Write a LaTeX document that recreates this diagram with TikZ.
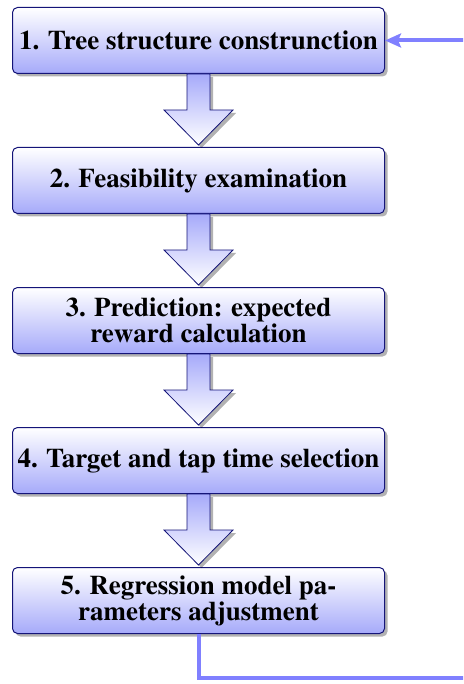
\documentclass[tikz,border=0pt]{standalone}
\usepackage[T1]{fontenc}
\usepackage{mathptmx}
\usetikzlibrary{positioning, shadows, arrows.meta}

\definecolor{boxblue}{RGB}{166,170,250}
\definecolor{boxline}{RGB}{20,20,120}
\definecolor{loopblue}{RGB}{128,128,255}

\begin{document}
\begin{tikzpicture}[x = 1pt, y = 1pt,
    stagebox/.style = {draw = boxline, line width = 1pt, rounded corners = 5pt,
      top color = white, bottom color = boxblue, minimum width = 372pt,
      minimum height = 66pt, inner sep = 0pt, align = center,
      font = \rmfamily\bfseries\fontsize{27}{26}\selectfont,
      drop shadow = {shadow xshift = 3pt, shadow yshift = -3pt, fill = black, opacity = .3}},
    blockarrow/.style = {draw = boxline, line width = .8pt, top color = boxblue,
      bottom color = white,
      drop shadow = {shadow xshift = 3pt, shadow yshift = -3pt, fill = black, opacity = .3}},
    loopline/.style = {draw = loopblue, line width = 4pt}]

    \clip (0,0) rectangle (463,-684);

    \node [stagebox] (s1) at (198.5,-40.5) {1. Tree structure construnction};
    \node [stagebox, below = 73pt of s1] (s2) {2. Feasibility examination};
    \node [stagebox, below = 73pt of s2] (s3) {3. Prediction: expected\\reward calculation};
    \node [stagebox, below = 73pt of s3] (s4) {4. Target and tap time selection};
    \node [stagebox, below = 73pt of s4] (s5) {5. Regression model pa-\\rameters adjustment};

    \foreach \a in {s1,s2,s3,s4} {
      \draw [blockarrow] ([xshift = -11.5pt]\a.south) -- ++(0,-36) -- ++(-23,0) -- ++(34.5,-35)
        -- ++(34.5,35) -- ++(-23,0) -- ++(0,36) -- cycle;
    }

    % back to the first stage
    \coordinate (loopturn) at ([xshift = 85pt]s1.east);
    \draw [loopline, -{Stealth[length = 16pt, width = 14pt, inset = 3pt]}]
      (s5.south) -- ++(0,-44) -| (loopturn) -- (s1.east);
\end{tikzpicture}
\end{document}
